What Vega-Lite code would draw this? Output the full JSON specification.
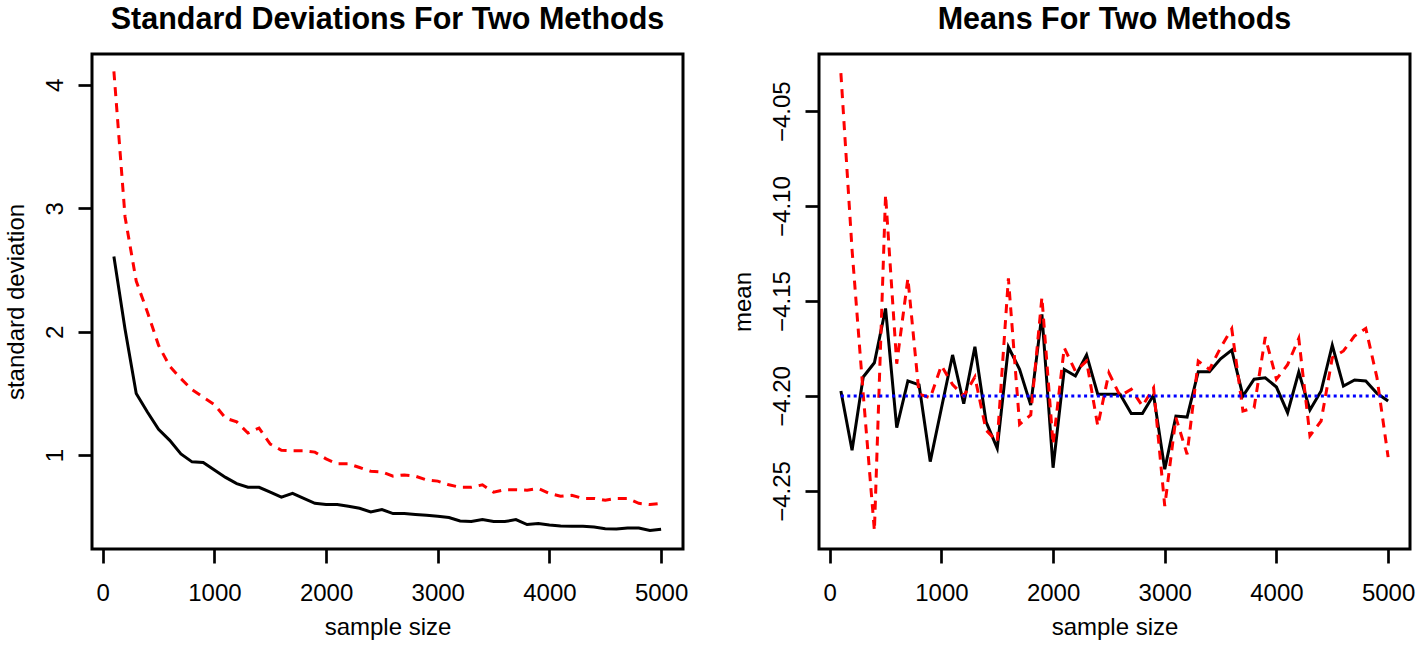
{
  "$schema": "https://vega.github.io/schema/vega-lite/v6.json",
  "autosize": {"type": "pad"},
  "padding": {"left": 2, "top": 3, "right": 0, "bottom": 0},
  "background": "white",
  "spacing": 136,
  "bounds": "flush",
  "config": {
    "view": {"stroke": "black", "strokeWidth": 3, "fill": "white"},
    "font": "Liberation Sans",
    "axis": {
      "domain": false, "grid": false, "ticks": true,
      "tickColor": "black", "tickWidth": 2.7, "tickSize": 14,
      "labelFont": "Liberation Sans", "labelFontSize": 24, "labelColor": "black",
      "titleFont": "Liberation Sans", "titleFontSize": 24, "titleFontWeight": "normal", "titleColor": "black",
      "labelFlush": false, "labelOverlap": false
    },
    "axisX": {"labelPadding": 18, "titlePadding": 10},
    "axisY": {"labelAngle": -90, "labelAlign": "center", "labelBaseline": "bottom", "labelPadding": 11, "titlePadding": 15},
    "title": {"font": "Liberation Sans", "fontSize": 30.5, "fontWeight": "bold", "color": "black", "anchor": "middle", "frame": "group", "baseline": "alphabetic", "offset": 19}
  },
  "datasets": {
    "sd": [
      {"n": 100, "m1": 2.61, "m2": 4.11},
      {"n": 200, "m1": 2.02, "m2": 2.93},
      {"n": 300, "m1": 1.50, "m2": 2.41},
      {"n": 400, "m1": 1.35, "m2": 2.16},
      {"n": 500, "m1": 1.21, "m2": 1.89},
      {"n": 600, "m1": 1.12, "m2": 1.72},
      {"n": 700, "m1": 1.01, "m2": 1.62},
      {"n": 800, "m1": 0.946, "m2": 1.53},
      {"n": 900, "m1": 0.94, "m2": 1.47},
      {"n": 1000, "m1": 0.88, "m2": 1.41},
      {"n": 1100, "m1": 0.82, "m2": 1.30},
      {"n": 1200, "m1": 0.77, "m2": 1.27},
      {"n": 1300, "m1": 0.74, "m2": 1.18},
      {"n": 1400, "m1": 0.74, "m2": 1.22},
      {"n": 1500, "m1": 0.70, "m2": 1.09},
      {"n": 1600, "m1": 0.66, "m2": 1.04},
      {"n": 1700, "m1": 0.69, "m2": 1.035},
      {"n": 1800, "m1": 0.65, "m2": 1.035},
      {"n": 1900, "m1": 0.61, "m2": 1.025},
      {"n": 2000, "m1": 0.60, "m2": 0.97},
      {"n": 2100, "m1": 0.60, "m2": 0.93},
      {"n": 2200, "m1": 0.586, "m2": 0.93},
      {"n": 2300, "m1": 0.57, "m2": 0.90},
      {"n": 2400, "m1": 0.54, "m2": 0.87},
      {"n": 2500, "m1": 0.56, "m2": 0.865},
      {"n": 2600, "m1": 0.527, "m2": 0.83},
      {"n": 2700, "m1": 0.527, "m2": 0.84},
      {"n": 2800, "m1": 0.52, "m2": 0.83},
      {"n": 2900, "m1": 0.513, "m2": 0.80},
      {"n": 3000, "m1": 0.505, "m2": 0.79},
      {"n": 3100, "m1": 0.495, "m2": 0.76},
      {"n": 3200, "m1": 0.467, "m2": 0.74},
      {"n": 3300, "m1": 0.462, "m2": 0.74},
      {"n": 3400, "m1": 0.478, "m2": 0.76},
      {"n": 3500, "m1": 0.462, "m2": 0.70},
      {"n": 3600, "m1": 0.462, "m2": 0.72},
      {"n": 3700, "m1": 0.478, "m2": 0.72},
      {"n": 3800, "m1": 0.438, "m2": 0.716},
      {"n": 3900, "m1": 0.446, "m2": 0.73},
      {"n": 4000, "m1": 0.435, "m2": 0.69},
      {"n": 4100, "m1": 0.427, "m2": 0.667},
      {"n": 4200, "m1": 0.424, "m2": 0.675},
      {"n": 4300, "m1": 0.424, "m2": 0.65},
      {"n": 4400, "m1": 0.418, "m2": 0.65},
      {"n": 4500, "m1": 0.405, "m2": 0.635},
      {"n": 4600, "m1": 0.403, "m2": 0.65},
      {"n": 4700, "m1": 0.41, "m2": 0.65},
      {"n": 4800, "m1": 0.41, "m2": 0.61},
      {"n": 4900, "m1": 0.39, "m2": 0.60},
      {"n": 5000, "m1": 0.40, "m2": 0.61}
    ],
    "means": [
      {"n": 100, "m1": -4.1974, "m2": -4.030, "truth": -4.2},
      {"n": 200, "m1": -4.2286, "m2": -4.123, "truth": -4.2},
      {"n": 300, "m1": -4.190, "m2": -4.199, "truth": -4.2},
      {"n": 400, "m1": -4.1825, "m2": -4.271, "truth": -4.2},
      {"n": 500, "m1": -4.1539, "m2": -4.094, "truth": -4.2},
      {"n": 600, "m1": -4.2167, "m2": -4.183, "truth": -4.2},
      {"n": 700, "m1": -4.1921, "m2": -4.138, "truth": -4.2},
      {"n": 800, "m1": -4.1942, "m2": -4.199, "truth": -4.2},
      {"n": 900, "m1": -4.2346, "m2": -4.201, "truth": -4.2},
      {"n": 1000, "m1": -4.2065, "m2": -4.184, "truth": -4.2},
      {"n": 1100, "m1": -4.1784, "m2": -4.194, "truth": -4.2},
      {"n": 1200, "m1": -4.2041, "m2": -4.200, "truth": -4.2},
      {"n": 1300, "m1": -4.1741, "m2": -4.190, "truth": -4.2},
      {"n": 1400, "m1": -4.2136, "m2": -4.218, "truth": -4.2},
      {"n": 1500, "m1": -4.2276, "m2": -4.224, "truth": -4.2},
      {"n": 1600, "m1": -4.1742, "m2": -4.138, "truth": -4.2},
      {"n": 1700, "m1": -4.186, "m2": -4.215, "truth": -4.2},
      {"n": 1800, "m1": -4.2048, "m2": -4.210, "truth": -4.2},
      {"n": 1900, "m1": -4.157, "m2": -4.148, "truth": -4.2},
      {"n": 2000, "m1": -4.2378, "m2": -4.2255, "truth": -4.2},
      {"n": 2100, "m1": -4.186, "m2": -4.1746, "truth": -4.2},
      {"n": 2200, "m1": -4.1895, "m2": -4.187, "truth": -4.2},
      {"n": 2300, "m1": -4.1784, "m2": -4.1816, "truth": -4.2},
      {"n": 2400, "m1": -4.1991, "m2": -4.2158, "truth": -4.2},
      {"n": 2500, "m1": -4.1991, "m2": -4.1878, "truth": -4.2},
      {"n": 2600, "m1": -4.1991, "m2": -4.200, "truth": -4.2},
      {"n": 2700, "m1": -4.2093, "m2": -4.1965, "truth": -4.2},
      {"n": 2800, "m1": -4.2093, "m2": -4.2053, "truth": -4.2},
      {"n": 2900, "m1": -4.1995, "m2": -4.1957, "truth": -4.2},
      {"n": 3000, "m1": -4.2386, "m2": -4.258, "truth": -4.2},
      {"n": 3100, "m1": -4.2106, "m2": -4.2114, "truth": -4.2},
      {"n": 3200, "m1": -4.2111, "m2": -4.2307, "truth": -4.2},
      {"n": 3300, "m1": -4.1872, "m2": -4.1816, "truth": -4.2},
      {"n": 3400, "m1": -4.1872, "m2": -4.186, "truth": -4.2},
      {"n": 3500, "m1": -4.1804, "m2": -4.1746, "truth": -4.2},
      {"n": 3600, "m1": -4.1758, "m2": -4.1646, "truth": -4.2},
      {"n": 3700, "m1": -4.200, "m2": -4.2079, "truth": -4.2},
      {"n": 3800, "m1": -4.1912, "m2": -4.2062, "truth": -4.2},
      {"n": 3900, "m1": -4.1904, "m2": -4.169, "truth": -4.2},
      {"n": 4000, "m1": -4.1953, "m2": -4.1912, "truth": -4.2},
      {"n": 4100, "m1": -4.2088, "m2": -4.1835, "truth": -4.2},
      {"n": 4200, "m1": -4.1874, "m2": -4.1697, "truth": -4.2},
      {"n": 4300, "m1": -4.2074, "m2": -4.221, "truth": -4.2},
      {"n": 4400, "m1": -4.1974, "m2": -4.2132, "truth": -4.2},
      {"n": 4500, "m1": -4.1733, "m2": -4.1799, "truth": -4.2},
      {"n": 4600, "m1": -4.1948, "m2": -4.1763, "truth": -4.2},
      {"n": 4700, "m1": -4.1916, "m2": -4.1684, "truth": -4.2},
      {"n": 4800, "m1": -4.1921, "m2": -4.1644, "truth": -4.2},
      {"n": 4900, "m1": -4.1986, "m2": -4.1903, "truth": -4.2},
      {"n": 5000, "m1": -4.2027, "m2": -4.2322, "truth": -4.2}
    ]
  },
  "hconcat": [
    {
      "width": 591, "height": 495,
      "title": "Standard Deviations For Two Methods",
      "data": {"name": "sd"},
      "encoding": {
        "x": {"field": "n", "type": "quantitative", "title": "sample size",
              "scale": {"domain": [-96, 5196], "nice": false, "zero": false},
              "axis": {"values": [0, 1000, 2000, 3000, 4000, 5000], "format": "d"}}
      },
      "layer": [
        {"mark": {"type": "line", "color": "black", "strokeWidth": 3},
         "encoding": {"y": {"field": "m1", "type": "quantitative", "title": "standard deviation",
                            "scale": {"domain": [0.24, 4.25], "nice": false, "zero": false},
                            "axis": {"values": [1, 2, 3, 4], "format": "d"}}}},
        {"mark": {"type": "line", "color": "#ff0000", "strokeWidth": 3, "strokeDash": [9, 7]},
         "encoding": {"y": {"field": "m2", "type": "quantitative", "title": "standard deviation"}}}
      ]
    },
    {
      "width": 591, "height": 495,
      "title": "Means For Two Methods",
      "data": {"name": "means"},
      "encoding": {
        "x": {"field": "n", "type": "quantitative", "title": "sample size",
              "scale": {"domain": [-96, 5196], "nice": false, "zero": false},
              "axis": {"values": [0, 1000, 2000, 3000, 4000, 5000], "format": "d"}}
      },
      "layer": [
        {"mark": {"type": "line", "color": "black", "strokeWidth": 3},
         "encoding": {"y": {"field": "m1", "type": "quantitative", "title": "mean",
                            "scale": {"domain": [-4.2806, -4.0199], "nice": false, "zero": false},
                            "axis": {"values": [-4.25, -4.2, -4.15, -4.1, -4.05], "format": ".2f"}}}},
        {"mark": {"type": "line", "color": "#ff0000", "strokeWidth": 3, "strokeDash": [9, 7]},
         "encoding": {"y": {"field": "m2", "type": "quantitative", "title": "mean"}}},
        {"mark": {"type": "line", "color": "#0000ff", "strokeWidth": 3, "strokeDash": [3, 3.4]},
         "encoding": {"y": {"field": "truth", "type": "quantitative", "title": "mean"}}}
      ]
    }
  ]
}
